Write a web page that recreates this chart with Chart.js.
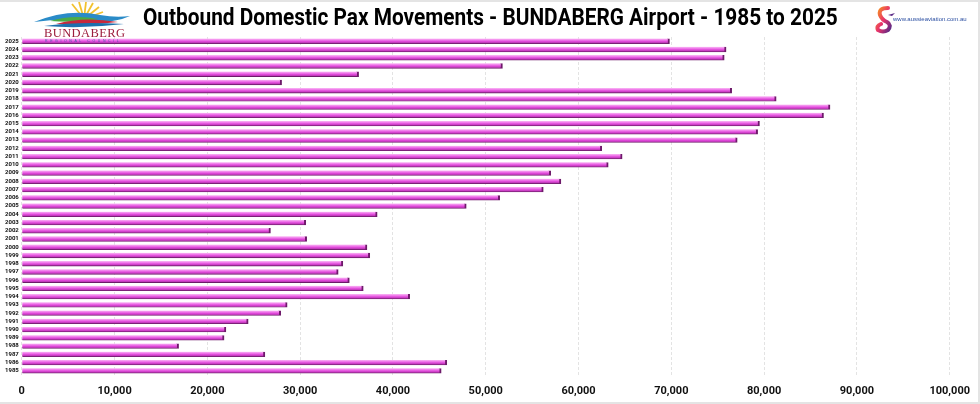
<!DOCTYPE html>
<html>
<head>
<meta charset="utf-8">
<script src="https://cdn.jsdelivr.net/npm/chart.js@4.4.1/dist/chart.umd.min.js"></script>
<style>
    html, body { margin: 0; padding: 0; background: #fff; }
    #wrap {
        position: relative;
        width: 980px;
        height: 404px;
        box-sizing: border-box;
        border: 2px solid #e4e4e4;
        border-left: none;
        overflow: hidden;
    }
    canvas { position: absolute; left: 0; top: 0; }
    #title {
        position: absolute; left: 143px; top: 2px;
        margin: 0; white-space: nowrap;
        font-family: Roboto, sans-serif; font-weight: 700; font-size: 23px;
        color: #000;
        transform-origin: 0 0;
    }
    /* logos sit over the chart, like in the original */
    .logo-left { position: absolute; left: 28px; top: 0; width: 104px; height: 44px; z-index: 2; }
    .logo-left .name {
        position: absolute; left: 16px; top: 24px;
        font-family: 'Liberation Serif', serif; font-size: 12.5px; letter-spacing: 0.4px;
        color: #9c1d3d;
    }
    .logo-left .sub {
        position: absolute; left: 17px; top: 37px;
        font-family: 'Liberation Sans', sans-serif; font-size: 3.5px; letter-spacing: 2.6px;
        color: #4a5aa8;
    }
    .logo-right { position: absolute; left: 874px; top: 4px; width: 100px; height: 28px; z-index: 2; }
    .logo-right .url {
        position: absolute; left: 19px; top: 10px;
        font-family: 'Liberation Sans', sans-serif; font-size: 6px;
        color: #2b4fa2;
    }
</style>
</head>
<body>
<div id="wrap">
    <canvas id="paxChart" width="980" height="408"></canvas>
    <h1 id="title"></h1>
    <div class="logo-left">
        <svg width="104" height="28" viewBox="0 0 104 28">
            <!-- sun rays -->
            <g stroke="#f2c12e" stroke-width="1.8">
                <line x1="56" y1="17" x2="44" y2="2"/>
                <line x1="56" y1="17" x2="51" y2="0"/>
                <line x1="56" y1="17" x2="58" y2="0"/>
                <line x1="56" y1="17" x2="65" y2="1"/>
                <line x1="56" y1="17" x2="71" y2="5"/>
                <line x1="56" y1="17" x2="75" y2="10"/>
            </g>
            <path d="M6 20 Q40 6 72 13 Q88 16 102 14 Q84 22 62 19 Q35 16 6 20 Z" fill="#2a8bc8"/>
            <path d="M22 19 Q45 12 70 17 Q50 21 22 19 Z" fill="#4bab46"/>
            <path d="M28 22 Q55 14 90 20 Q60 24 28 22 Z" fill="#c8283c"/>
            <path d="M16 24 Q50 19 96 22 Q55 27 16 24 Z" fill="#1d6fae"/>
        </svg>
        <div class="name">BUNDABERG</div>
        <div class="sub">REGIONAL COUNCIL</div>
    </div>
    <div class="logo-right">
        <svg width="22" height="28" viewBox="0 0 22 28">
            <defs>
                <linearGradient id="sg" x1="0" y1="0" x2="1" y2="1">
                    <stop offset="0" stop-color="#f7941d"/>
                    <stop offset="0.5" stop-color="#e8336b"/>
                    <stop offset="1" stop-color="#5b2a86"/>
                </linearGradient>
            </defs>
            <path d="M14 2 Q4 2 6 9 Q8 14 13 16 Q18 19 14 24 Q9 27 4 24 Q2 20 7 18"
                  fill="none" stroke="url(#sg)" stroke-width="4" stroke-linecap="round"/>
            <path d="M14 9 L21 7 L18 10 Z" fill="#5b2a86"/>
        </svg>
        <div class="url">www.aussieaviation.com.au</div>
    </div>
</div>
<script>
// years listed top to bottom as in the picture
const years = [
    '2025', '2024', '2023', '2022', '2021', '2020', '2019', '2018', '2017', '2016',
    '2015', '2014', '2013', '2012', '2011', '2010', '2009', '2008', '2007', '2006',
    '2005', '2004', '2003', '2002', '2001', '2000', '1999', '1998', '1997', '1996',
    '1995', '1994', '1993', '1992', '1991', '1990', '1989', '1988', '1987', '1986',
    '1985'
];

// outbound domestic passengers, same order as years
const paxOutbound = [
    69800, 75900, 75700, 51800, 36300, 28000, 76500, 81300, 87100, 86400,
    79500, 79300, 77100, 62500, 64700, 63200, 57000, 58100, 56200, 51500,
    47900, 38300, 30600, 26800, 30700, 37200, 37500, 34600, 34100, 35300,
    36800, 41800, 28600, 27900, 24400, 22000, 21800, 16900, 26200, 45800,
    45200
];

const xTicks = [0, 10000, 20000, 30000, 40000, 50000, 60000, 70000, 80000, 90000, 100000];

const titleText = 'Outbound Domestic Pax Movements - BUNDABERG Airport - 1985 to 2025';

// title is a narrow face in the original, squeeze it to the same width
const titleEl = document.getElementById('title');
titleEl.textContent = titleText;
titleEl.style.transform = 'scaleX(' + (695 / titleEl.scrollWidth) + ')';

// vertical gradient per bar: light top, magenta body, dark lower edge
function barFill(c) {
    const chart = c.chart;
    const yScale = chart.scales.y;
    if (!yScale || c.dataIndex === undefined) return '#dc3fd6';
    const py = yScale.getPixelForValue(c.dataIndex);
    if (!isFinite(py)) return '#dc3fd6';
    const g = chart.ctx.createLinearGradient(0, py - 2.5, 0, py + 2.5);
    g.addColorStop(0, '#f9b8f4');
    g.addColorStop(0.3, '#f07ceb');
    g.addColorStop(0.6, '#de46d8');
    g.addColorStop(1, '#a0329b');
    return g;
}

const ctx = document.getElementById('paxChart').getContext('2d');

new Chart(ctx, {
    type: 'bar',
    data: {
        labels: years,
        datasets: [{
            label: 'Outbound',
            data: paxOutbound,
            backgroundColor: barFill,
            borderColor: '#6e1a6a',
            borderWidth: { top: 0, right: 2, bottom: 0.8, left: 0 },
            borderSkipped: false,
            barThickness: 5
        }]
    },
    options: {
        indexAxis: 'y',
        responsive: false,
        animation: false,
        devicePixelRatio: 1,
        layout: {
            padding: { left: 2, right: 0, top: 35, bottom: 2 }
        },
        plugins: {
            legend: { display: false },
            tooltip: { enabled: false },
            title: { display: false }
        },
        scales: {
            x: {
                min: 0,
                max: 100000,
                afterBuildTicks: (axis) => { axis.ticks = xTicks.map(v => ({ value: v })); },
                grid: {
                    color: '#e3e3e3',
                    lineWidth: 1,
                    drawTicks: false
                },
                border: { display: false, dash: [3, 2] },
                ticks: {
                    padding: 10,
                    color: '#111',
                    font: { family: 'Roboto, sans-serif', size: 11, weight: 'bold' },
                    maxRotation: 0,
                    callback: (v) => Number(v).toLocaleString('en-US')
                }
            },
            y: {
                grid: { display: false, drawTicks: false },
                border: { display: false },
                ticks: {
                    autoSkip: false,
                    padding: 3,
                    color: '#111',
                    font: { family: 'Roboto, sans-serif', size: 6, weight: 'bold' }
                }
            }
        }
    }
});
</script>
</body>
</html>
